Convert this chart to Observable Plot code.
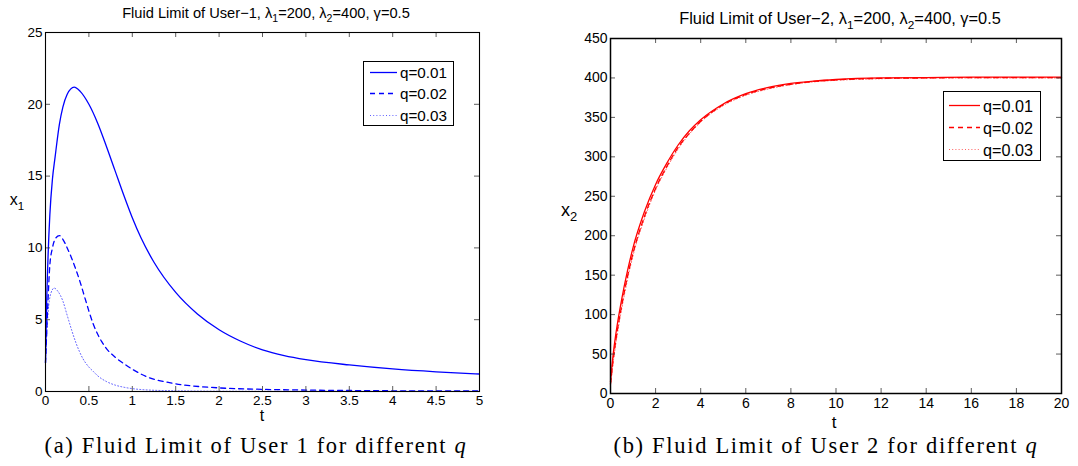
<!DOCTYPE html>
<html><head><meta charset="utf-8">
<script src="https://cdn.jsdelivr.net/npm/d3@7"></script>
<script src="https://cdn.jsdelivr.net/npm/@observablehq/plot@0.6"></script>
<style>
html,body{margin:0;padding:0;background:#fff;}
#root{position:relative;width:1078px;height:466px;overflow:hidden;font-family:"Liberation Sans",Arial,sans-serif;color:#000;}
.abs{position:absolute;white-space:nowrap;line-height:1;}
.c{transform:translate(-50%,-50%);}
sub{font-size:0.72em;vertical-align:-0.4em;line-height:0;}
.cap{font-family:"Liberation Serif","Times New Roman",serif;}
.legend{position:absolute;border:1px solid #000;background:#fff;box-sizing:border-box;}
.plot{position:absolute;top:0;}
</style></head><body><div id="root"></div>
<script>
// ---------- data ----------
const xTicks1 = [0, 0.5, 1, 1.5, 2, 2.5, 3, 3.5, 4, 4.5, 5];
const yTicks1 = [0, 5, 10, 15, 20, 25];
const xTicks2 = [0, 2, 4, 6, 8, 10, 12, 14, 16, 18, 20];
const yTicks2 = [0, 50, 100, 150, 200, 250, 300, 350, 400, 450];
const qLabels = ["q=0.01", "q=0.02", "q=0.03"];

// User 1
const u1q1T = [0, 0.01, 0.03, 0.05, 0.08, 0.11, 0.16, 0.2, 0.25, 0.33, 0.4, 0.5, 0.6, 0.7, 0.8, 0.9, 1.0, 1.1, 1.25, 1.5, 1.75, 2.0, 2.25, 2.5, 2.75, 3.0, 3.5, 4.0, 4.5, 5.0];
const u1q1X = [2, 5.3, 9.5, 12.3, 14.8, 16.3, 18.6, 19.8, 20.7, 21.2, 20.9, 20.0, 18.7, 17.1, 15.4, 13.7, 12.1, 10.7, 9.0, 6.9, 5.4, 4.3, 3.5, 2.9, 2.5, 2.22, 1.85, 1.57, 1.37, 1.22];
const u1q2T = [0, 0.01, 0.03, 0.05, 0.08, 0.12, 0.16, 0.2, 0.25, 0.3, 0.35, 0.4, 0.45, 0.5, 0.55, 0.6, 0.65, 0.7, 0.8, 0.9, 1.0, 1.2, 1.4, 1.6, 1.8, 2.0, 2.5, 3.0, 3.5, 4.0, 5.0];
const u1q2X = [2, 3.5, 6.5, 8.8, 10.0, 10.7, 10.86, 10.6, 10.0, 9.3, 8.5, 7.6, 6.6, 5.6, 4.7, 4.0, 3.45, 3.0, 2.4, 1.95, 1.55, 0.95, 0.65, 0.45, 0.33, 0.25, 0.15, 0.1, 0.07, 0.05, 0.04];
const u1q3T = [0, 0.01, 0.03, 0.06, 0.1, 0.14, 0.2, 0.25, 0.3, 0.35, 0.43, 0.5, 0.55, 0.6, 0.7, 0.8, 0.9, 1.0, 1.2, 1.5, 2.0, 3.0, 4.0, 5.0];
const u1q3X = [2, 3.5, 5.5, 6.8, 7.2, 7.0, 6.3, 5.3, 4.3, 3.4, 2.3, 1.7, 1.4, 1.1, 0.7, 0.45, 0.3, 0.2, 0.1, 0.05, 0.02, 0.01, 0.01, 0.01];

// User 2
const u2T = [0, 0.1, 0.25, 0.5, 0.75, 1, 1.5, 2, 2.5, 3, 3.5, 4, 5, 6, 7, 8, 9, 10, 12, 14, 16, 18, 20];
const u2q1X = [15, 45, 78, 120, 155, 185, 230, 265, 292, 315, 333, 347, 367, 380, 388, 393, 396, 398, 400, 400.5, 401, 401, 401];
const u2q2X = [12, 38, 70, 112, 148, 178, 224, 260, 288, 312, 330, 345, 366, 379, 387, 392, 395.5, 397.5, 399.5, 400, 400.5, 400.5, 400.5];
const u2q3X = [10, 35, 66, 108, 144, 175, 221, 258, 286, 310, 329, 344, 365, 378, 386, 391.5, 395, 397, 399, 400, 400, 400, 400];

// ---------- helpers ----------
const root = document.getElementById("root");
const rows = (T, X) => T.map((t, i) => ({t, v: X[i]}));
const dashes = [null, "5,4", "1,2.2"];
const widths = [1.3, 1.3, 0.9];
const opac = [1, 1, 0.7];

function panel(cfg) {
  const iw = cfg.width - cfg.ml - cfg.mr, ih = cfg.height - cfg.mt - cfg.mb;
  const marks = [];
  cfg.series.forEach((s, i) => {
    marks.push(Plot.line(s, {x: "t", y: "v", stroke: cfg.color, strokeWidth: widths[i], strokeOpacity: opac[i], strokeDasharray: dashes[i], curve: "monotone-x"}));
  });
  const tl = 5;
  marks.push(Plot.tickX(cfg.xTicks, {x: d => d, insetTop: ih - tl, stroke: "#333", strokeWidth: 0.8}));
  marks.push(Plot.tickX(cfg.xTicks, {x: d => d, insetBottom: ih - tl, stroke: "#333", strokeWidth: 0.8}));
  marks.push(Plot.tickY(cfg.yTicks, {y: d => d, insetRight: iw - tl, stroke: "#333", strokeWidth: 0.8}));
  marks.push(Plot.tickY(cfg.yTicks, {y: d => d, insetLeft: iw - tl, stroke: "#333", strokeWidth: 0.8}));
  marks.push(Plot.frame({stroke: "black", strokeWidth: cfg.fw}));
  const svg = Plot.plot({
    width: cfg.width, height: cfg.height,
    marginLeft: cfg.ml, marginRight: cfg.mr, marginTop: cfg.mt, marginBottom: cfg.mb,
    x: {domain: cfg.xDomain, ticks: cfg.xTicks, tickSize: 0, tickPadding: cfg.xpad, label: null, tickFormat: d => String(d)},
    y: {domain: cfg.yDomain, ticks: cfg.yTicks, tickSize: 0, tickPadding: cfg.ypad, label: null, tickFormat: d => String(d)},
    style: {fontSize: cfg.fs + "px", fontFamily: '"Liberation Sans", Arial, sans-serif', color: "black", background: "transparent", overflow: "visible"},
    marks
  });
  svg.classList.add("plot");
  svg.style.left = cfg.left + "px";
  root.appendChild(svg);
}

function text(html, x, y, fs, cls, fitW, ls) {
  const d = document.createElement("div");
  d.className = "abs c " + (cls || "");
  d.style.left = x + "px"; d.style.top = y + "px"; d.style.fontSize = fs + "px";
  if (ls !== undefined) d.style.letterSpacing = ls + "px";
  d.innerHTML = html;
  root.appendChild(d);
  if (fitW && ls === undefined) {
    const w = d.getBoundingClientRect().width;
    d.style.fontSize = (fs * fitW / w) + "px";
  } else if (fitW) {
    // keep font size, adjust letter spacing so that the width matches
    const n = d.textContent.length;
    const w = d.getBoundingClientRect().width;
    d.style.letterSpacing = (ls + (fitW - w) / n) + "px";
  }
  return d;
}

function legend(x, y, w, h, color, rowYs, lx1, lx2, tx, fs, tw) {
  const box = document.createElement("div");
  box.className = "legend";
  Object.assign(box.style, {left: x + "px", top: y + "px", width: w + "px", height: h + "px"});
  root.appendChild(box);
  const ns = "http://www.w3.org/2000/svg";
  const svg = document.createElementNS(ns, "svg");
  svg.setAttribute("width", 1078); svg.setAttribute("height", 466);
  Object.assign(svg.style, {position: "absolute", left: "0px", top: "0px", pointerEvents: "none"});
  qLabels.forEach((lab, i) => {
    const ln = document.createElementNS(ns, "line");
    ln.setAttribute("x1", lx1); ln.setAttribute("x2", lx2);
    ln.setAttribute("y1", rowYs[i]); ln.setAttribute("y2", rowYs[i]);
    ln.setAttribute("stroke", color); ln.setAttribute("stroke-width", widths[i]);
    ln.setAttribute("stroke-opacity", opac[i]);
    if (dashes[i]) ln.setAttribute("stroke-dasharray", dashes[i]);
    svg.appendChild(ln);
    const d = document.createElement("div");
    d.className = "abs";
    Object.assign(d.style, {left: tx + "px", top: rowYs[i] + "px", fontSize: fs + "px", transform: "translateY(-50%)"});
    d.textContent = lab;
    root.appendChild(d);
    const wd = d.getBoundingClientRect().width;
    d.style.fontSize = (fs * tw / wd) + "px";
  });
  root.appendChild(svg);
}

// ---------- left panel ----------
panel({
  left: 0, width: 540, height: 466, ml: 45, mr: 61, mt: 32, mb: 75,
  xDomain: [0, 5], yDomain: [0, 25], xTicks: xTicks1, yTicks: yTicks1,
  xpad: 4, ypad: 3, fs: 13.5, fw: 1.1, color: "#0000ff",
  series: [rows(u1q1T, u1q1X), rows(u1q2T, u1q2X), rows(u1q3T, u1q3X)]
});
// ---------- right panel ----------
panel({
  left: 540, width: 538, height: 466, ml: 70, mr: 17, mt: 38, mb: 73,
  xDomain: [0, 20], yDomain: [0, 450], xTicks: xTicks2, yTicks: yTicks2,
  xpad: 5, ypad: 3, fs: 14, fw: 1.5, color: "#ff0000",
  series: [rows(u2T, u2q1X), rows(u2T, u2q2X), rows(u2T, u2q3X)]
});

// titles
text("Fluid Limit of User\u22121, \u03bb<sub>1</sub>=200, \u03bb<sub>2</sub>=400, \u03b3=0.5", 266, 13, 14, "", 288);
text("Fluid Limit of User\u22122, \u03bb<sub>1</sub>=200, \u03bb<sub>2</sub>=400, \u03b3=0.5", 840, 18, 16, "", 322);
// axis labels
text("x<sub>1</sub>", 17, 200, 16);
text("x<sub>2</sub>", 569, 210, 18);
text("t", 262, 416, 16);
text("t", 834, 422, 17);
// captions
text("(a) Fluid Limit of User 1 for different <i>q</i>", 256, 446, 22.5, "cap", 423, 0);
text("(b) Fluid Limit of User 2 for different <i>q</i>", 826, 446, 22.5, "cap", 425, 0);
// legends
legend(363, 61, 91, 65, "#0000ff", [72.5, 93.5, 115.5], 370, 397, 400, 15, 47);
legend(943, 91, 98, 70, "#ff0000", [105.5, 127.5, 149.5], 949, 980, 983, 16, 50);
</script></body></html>
